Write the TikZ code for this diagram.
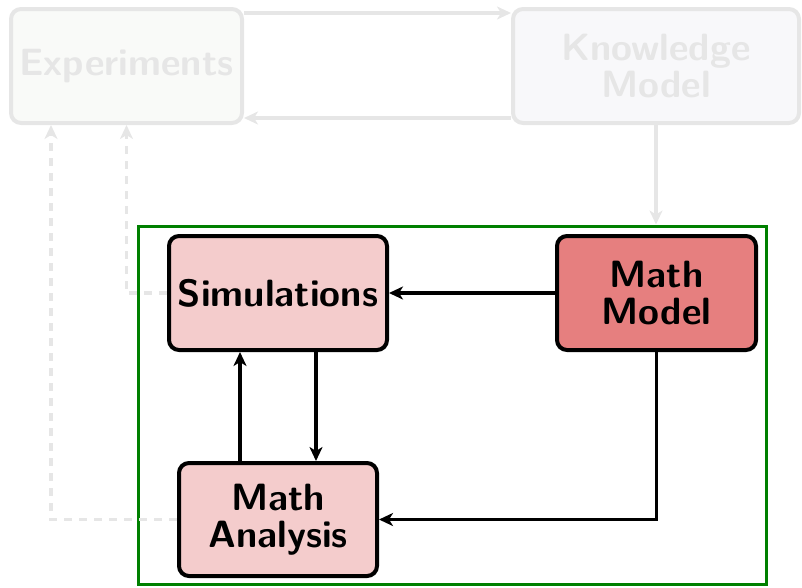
\documentclass[tikz,border=0pt]{standalone}
\usetikzlibrary{calc}
\usetikzlibrary{arrows.meta}

\definecolor{ghost}{HTML}{E6E6E6}
\definecolor{expfill}{HTML}{F9FAF8}
\definecolor{knowfill}{HTML}{F8F8FA}
\definecolor{simfill}{HTML}{F4CCCC}
\definecolor{modelfill}{HTML}{E67F7F}
\definecolor{framegreen}{HTML}{008000}

\tikzset{
  box/.style={draw=black, line width=4pt, rounded corners=10pt, align=center,
    font=\fontsize{38}{37}\selectfont\sffamily\bfseries, inner sep=0pt},
  faded/.style={box, draw=ghost, text=ghost},
  flow/.style={line width=3.5pt, -{Stealth[length=14pt,width=13pt,inset=4pt]}},
  fadedflow/.style={flow, draw=ghost},
}

\begin{document}
\begin{tikzpicture}[x=1pt,y=-1pt]
\useasboundingbox (0,0) rectangle (802,587);
\node[faded, fill=expfill, minimum width=231, minimum height=114] (exp) at (126.5, 66) {Experiments};
\node[faded, fill=knowfill, minimum width=286, minimum height=114] (know) at (656, 66) {Knowledge\\Model};
\node[draw=framegreen, line width=3pt, minimum width=628, minimum height=358, inner sep=0pt] (core) at (452, 405) {};
\node[box, fill=simfill, minimum width=218, minimum height=114] (sim) at (278, 293) {Simulations};
\node[box, fill=modelfill, minimum width=199, minimum height=114] (mmodel) at (656.5, 293) {Math\\Model};
\node[box, fill=simfill, minimum width=198, minimum height=113] (ana) at (278, 519.5) {Math\\Analysis};

% outer loop, faded
\draw[fadedflow] (exp.east |- 0,13) -- (know.west |- 0,13);
\draw[fadedflow] (know.west |- 0,118) -- (exp.east |- 0,118);
\draw[fadedflow] (know.south) -- (know.south |- core.north);
\draw[fadedflow, dashed, dash pattern=on 8pt off 7pt] (sim.west) -| (exp.south);
\draw[fadedflow, dashed, dash pattern=on 8pt off 7pt] (ana.west) -| ([xshift=42pt]exp.south west);

% inner loop
\draw[flow] (mmodel.west) -- (sim.east);
\draw[flow] (mmodel.south) |- (ana.east);
\draw[flow] (sim.south -| 316,0) -- (ana.north -| 316,0);
\draw[flow] (ana.north -| 240,0) -- (sim.south -| 240,0);
\end{tikzpicture}
\end{document}
